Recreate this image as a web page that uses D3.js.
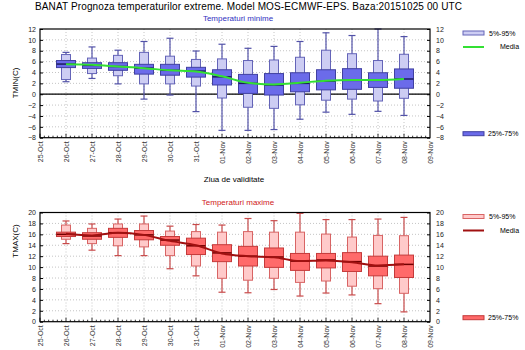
<!DOCTYPE html>
<html>
<head>
<meta charset="utf-8">
<script src="https://cdn.jsdelivr.net/npm/d3@7"></script>
<style>
  body { margin: 0; background: #fff; }
  svg { font-family: "Liberation Sans", Arial, sans-serif; }
</style>
</head>
<body>
<script>
const width = 525, height = 350;

// days with a forecast box
const days = ["2015-10-26", "2015-10-27", "2015-10-28", "2015-10-29", "2015-10-30", "2015-10-31",
  "2015-11-01", "2015-11-02", "2015-11-03", "2015-11-04", "2015-11-05", "2015-11-06", "2015-11-07", "2015-11-08"];
const axisStart = "2015-10-25", axisEnd = "2015-11-09";

// TMIN distribution
const tminMax = [7.7, 8.7, 8.1, 9.7, 10.3, 7.95, 9.2, 8.45, 8.8, 9.7, 11.3, 10.8, 12.0, 10.6];
const tminP95 = [7.3, 6.65, 7.15, 7.7, 7.0, 6.4, 6.5, 6.2, 6.3, 6.8, 8.1, 7.45, 6.2, 7.35];
const tminP75 = [6.2, 5.8, 5.8, 5.5, 5.5, 4.95, 4.5, 3.65, 3.8, 3.95, 4.5, 4.7, 3.95, 4.65];
const tminMed = [5.55, 5.3, 5.1, 4.8, 4.4, 4.25, 3.2, 2.0, 1.7, 2.0, 2.4, 2.55, 2.55, 2.8];
const tminP25 = [4.9, 4.75, 4.4, 3.7, 3.5, 3.15, 1.7, 0.15, -0.15, 0.45, 0.8, 0.9, 1.25, 1.1];
const tminP5 = [2.7, 3.8, 3.4, 1.9, 1.9, 1.5, -0.7, -2.4, -2.6, -1.95, -1.1, -0.9, -1.25, -0.75];
const tminMin = [2.3, 2.9, 1.9, -0.9, -0.15, -3.2, -6.65, -6.65, -6.5, -4.6, -3.3, -3.7, -3.15, -3.9];
const tminMean = [5.5, 5.4, 5.1, 4.8, 4.4, 4.2, 3.3, 2.1, 1.8, 2.1, 2.5, 2.6, 2.6, 2.8];

// TMAX distribution
const tmaxMax = [18.45, 17.9, 18.8, 19.35, 17.5, 17.8, 17.7, 18.9, 18.5, 19.85, 18.7, 18.7, 18.8, 19.1];
const tmaxP95 = [17.7, 17.1, 17.9, 17.9, 16.6, 16.5, 16.4, 16.5, 16.4, 16.4, 16.05, 15.5, 15.8, 15.75];
const tmaxP75 = [16.4, 16.3, 17.1, 16.7, 15.6, 15.3, 14.1, 13.8, 13.5, 12.5, 12.5, 12.65, 12.0, 12.2];
const tmaxMed = [16.0, 15.7, 16.3, 15.9, 14.95, 13.9, 12.6, 12.0, 11.85, 11.1, 11.3, 11.0, 10.2, 10.5];
const tmaxP25 = [15.6, 15.1, 15.45, 15.0, 14.0, 12.3, 11.0, 10.2, 9.95, 9.4, 9.85, 9.2, 8.4, 8.1];
const tmaxP5 = [15.1, 14.3, 13.9, 13.7, 12.1, 10.2, 7.95, 7.6, 7.95, 7.2, 7.45, 6.5, 6.05, 5.2];
const tmaxMin = [14.3, 13.1, 12.1, 12.1, 9.7, 8.4, 5.4, 5.3, 5.9, 4.7, 5.25, 4.9, 3.3, 1.8];
const tmaxMean = [16.1, 15.8, 16.3, 15.9, 14.8, 14.0, 12.5, 12.0, 11.8, 11.1, 11.2, 10.9, 10.3, 10.5];

const tminTicks = d3.range(-8, 13, 2);
const tmaxTicks = d3.range(0, 21, 2);

const parse = d3.utcParse("%Y-%m-%d");
const x = d3.scaleUtc()
  .domain([parse(axisStart), parse(axisEnd)])
  .range([40, 430]);

const svg = d3.select("body").append("svg")
  .attr("width", width)
  .attr("height", height);

svg.append("text")
  .attr("x", 35).attr("y", 10)
  .attr("font-size", 10)
  .attr("textLength", 427)
  .text("BANAT  Prognoza temperaturilor extreme.  Model MOS-ECMWF-EPS. Baza:20151025 00 UTC");

function table(mx, p95, p75, med, p25, p5, mn, mean) {
  return days.map(function (d, i) {
    return { date: parse(d), max: mx[i], p95: p95[i], p75: p75[i], med: med[i],
      p25: p25[i], p5: p5[i], min: mn[i], mean: mean[i] };
  });
}

function panel(o) {
  const y = d3.scaleLinear().domain(o.domain).range([o.bottom, o.top]);
  const g = svg.append("g");

  // grid
  g.selectAll(".vg").data(days).enter().append("line")
    .attr("x1", d => x(parse(d))).attr("x2", d => x(parse(d)))
    .attr("y1", o.top).attr("y2", o.bottom)
    .attr("stroke", "#c4c4c4").attr("stroke-dasharray", "1,2");
  g.selectAll(".hg").data(o.ticks.slice(1, -1)).enter().append("line")
    .attr("x1", 40).attr("x2", 430)
    .attr("y1", d => y(d)).attr("y2", d => y(d))
    .attr("stroke", "#c4c4c4").attr("stroke-dasharray", "1,2");

  if (o.zeroLine) {
    g.append("line").attr("x1", 40).attr("x2", 430)
      .attr("y1", y(0)).attr("y2", y(0))
      .attr("stroke", "#000").attr("stroke-width", 1.2);
  }

  // minor ticks on the time axis
  g.selectAll(".mt").data(d3.utcHour.every(4).range(x.domain()[0], x.domain()[1])).enter().append("line")
    .attr("x1", d => x(d)).attr("x2", d => x(d))
    .attr("y1", o.bottom).attr("y2", d => o.bottom - (d.getUTCHours() === 0 ? 4 : 2))
    .attr("stroke", "#000").attr("stroke-width", 0.8);

  const boxes = g.selectAll(".box").data(o.data).enter().append("g")
    .attr("transform", d => `translate(${x(d.date)},0)`);

  boxes.append("line")
    .attr("y1", d => y(d.min)).attr("y2", d => y(d.max))
    .attr("stroke", o.whisker).attr("stroke-width", 1.2);
  boxes.append("line").attr("x1", -3.5).attr("x2", 3.5)
    .attr("y1", d => y(d.max)).attr("y2", d => y(d.max))
    .attr("stroke", o.whisker).attr("stroke-width", 1.2);
  boxes.append("line").attr("x1", -3.5).attr("x2", 3.5)
    .attr("y1", d => y(d.min)).attr("y2", d => y(d.min))
    .attr("stroke", o.whisker).attr("stroke-width", 1.2);

  boxes.append("rect")
    .attr("x", -4.5).attr("width", 9)
    .attr("y", d => y(d.p95)).attr("height", d => y(d.p5) - y(d.p95))
    .attr("fill", o.lightFill).attr("stroke", o.lightStroke).attr("stroke-width", 1);
  boxes.append("rect")
    .attr("x", -9.5).attr("width", 19)
    .attr("y", d => y(d.p75)).attr("height", d => y(d.p25) - y(d.p75))
    .attr("fill", o.darkFill).attr("stroke", o.darkStroke).attr("stroke-width", 1);
  boxes.append("line").attr("x1", -9.5).attr("x2", 9.5)
    .attr("y1", d => y(d.med)).attr("y2", d => y(d.med))
    .attr("stroke", o.medColor).attr("stroke-width", 1.5);

  const line = d3.line().x(d => x(d.date)).y(d => y(d.mean)).curve(d3.curveMonotoneX);
  g.append("path").datum(o.data)
    .attr("d", line).attr("fill", "none")
    .attr("stroke", o.meanColor).attr("stroke-width", 2);

  // frame
  g.append("rect").attr("x", 40).attr("y", o.top)
    .attr("width", 390).attr("height", o.bottom - o.top)
    .attr("fill", "none").attr("stroke", "#000").attr("stroke-width", 1.2);

  // axes
  const left = g.append("g").attr("transform", "translate(40,0)")
    .call(d3.axisLeft(y).tickValues(o.ticks).tickSize(-3).tickPadding(4));
  const right = g.append("g").attr("transform", "translate(430,0)")
    .call(d3.axisRight(y).tickValues(o.ticks).tickSize(-3).tickPadding(6));
  [left, right].forEach(a => {
    a.select(".domain").remove();
    a.selectAll("text").attr("font-size", 7).attr("font-family", null).attr("fill", "#222");
  });

  const bottom = g.append("g").attr("transform", `translate(0,${o.bottom})`)
    .call(d3.axisBottom(x).ticks(d3.utcDay.every(1)).tickFormat(d3.utcFormat("%d-%b")).tickSize(0));
  bottom.select(".domain").remove();
  bottom.selectAll("text")
    .attr("font-size", 7).attr("font-family", null).attr("fill", "#333")
    .attr("transform", "rotate(-90)")
    .attr("text-anchor", "end")
    .attr("x", -3.5).attr("y", 0).attr("dy", "0.35em");

  svg.append("text")
    .attr("x", 238).attr("y", o.top - 8)
    .attr("text-anchor", "middle").attr("font-size", 8)
    .attr("fill", o.titleColor).text(o.title);

  svg.append("text")
    .attr("transform", `translate(18,${o.labelY}) rotate(-90)`)
    .attr("text-anchor", "middle").attr("font-size", 8)
    .text(o.ylabel);

  // legend
  const lg = svg.append("g");
  lg.append("rect").attr("x", 463).attr("y", o.top + 2).attr("width", 21).attr("height", 4)
    .attr("fill", o.lightFill).attr("stroke", o.lightStroke);
  lg.append("text").attr("x", 489).attr("y", o.top + 6.5).attr("font-size", 7).text("5%-95%");
  lg.append("line").attr("x1", 463).attr("x2", 484).attr("y1", o.top + 18).attr("y2", o.top + 18)
    .attr("stroke", o.meanColor).attr("stroke-width", 2);
  lg.append("text").attr("x", 500).attr("y", o.top + 20).attr("font-size", 7).text("Media");
  lg.append("rect").attr("x", 463).attr("y", o.bottom - 6).attr("width", 21).attr("height", 4)
    .attr("fill", o.darkFill).attr("stroke", o.darkStroke);
  lg.append("text").attr("x", 488).attr("y", o.bottom - 1.5).attr("font-size", 7).text("25%-75%");
}

panel({
  top: 29, bottom: 137.7, domain: [-8, 12], ticks: tminTicks, zeroLine: true,
  data: table(tminMax, tminP95, tminP75, tminMed, tminP25, tminP5, tminMin, tminMean),
  whisker: "#5252a8", lightFill: "#cdcdf3", lightStroke: "#6464b8",
  darkFill: "#6b6bea", darkStroke: "#4040a0", medColor: "#1c1c5e", meanColor: "#33e033",
  title: "Temperaturi minime", titleColor: "#3030c0", ylabel: "TMIN(C)", labelY: 83
});

panel({
  top: 212.5, bottom: 321.7, domain: [0, 20], ticks: tmaxTicks, zeroLine: false,
  data: table(tmaxMax, tmaxP95, tmaxP75, tmaxMed, tmaxP25, tmaxP5, tmaxMin, tmaxMean),
  whisker: "#c84a4a", lightFill: "#ffcaca", lightStroke: "#d86464",
  darkFill: "#ff6a6a", darkStroke: "#c43a3a", medColor: "#700000", meanColor: "#a01010",
  title: "Temperaturi maxime", titleColor: "#d02020", ylabel: "TMAX(C)", labelY: 241
});

svg.append("text")
  .attr("x", 234).attr("y", 182)
  .attr("text-anchor", "middle").attr("font-size", 8)
  .text("Ziua de validitate");
</script>
</body>
</html>
